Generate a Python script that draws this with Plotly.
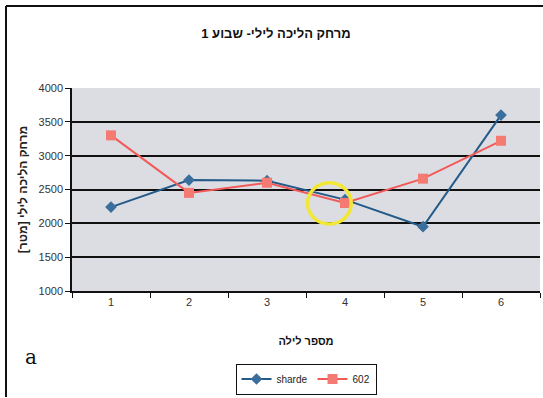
import plotly.graph_objects as go

# Nightly walking distance, week 1
nights = ["1", "2", "3", "4", "5", "6"]
sharde = [2240, 2640, 2630, 2350, 1950, 3600]
s602 = [3300, 2450, 2600, 2300, 2660, 3220]
y_ticks = [1000, 1500, 2000, 2500, 3000, 3500, 4000]

W, H = 543, 398
L, R, T, B = 72, 3, 88, 107
pw, ph = W - L - R, H - T - B

def px_x(p):
    return (p - L) / pw

def px_y(p):
    return (H - B - p) / ph

narrow = "Liberation Sans Narrow, Arial Narrow, Liberation Sans, sans-serif"

fig = go.Figure()
fig.add_trace(go.Scatter(
    x=nights, y=sharde, name="sharde", mode="lines+markers",
    line=dict(color="#245a88", width=2),
    marker=dict(symbol="diamond", size=9, color="#3a6e9c"),
))
fig.add_trace(go.Scatter(
    x=nights, y=s602, name="602", mode="lines+markers",
    line=dict(color="#f25a5a", width=2),
    marker=dict(symbol="square", size=10, color="#f47a72"),
))

# yellow highlight ring around night 4
fig.add_shape(type="circle", xref="x", yref="y",
              x0=2.52, x1=3.08, y0=1990, y1=2600,
              line=dict(color="#f2e833", width=3.5))

# outer frame
fig.add_shape(type="line", xref="paper", yref="paper",
              x0=px_x(6), x1=px_x(6), y0=px_y(6), y1=px_y(397),
              line=dict(color="#111", width=2))
fig.add_shape(type="line", xref="paper", yref="paper",
              x0=px_x(6), x1=px_x(W + 5), y0=px_y(6), y1=px_y(6),
              line=dict(color="#111", width=2))

fig.add_annotation(text="a", xref="paper", yref="paper",
                   x=px_x(31), y=px_y(357), xanchor="center", yanchor="middle",
                   showarrow=False,
                   font=dict(family="DejaVu Serif, Liberation Serif, serif", size=20, color="#111"))

fig.update_layout(
    width=W, height=H,
    margin=dict(l=L, r=R, t=T, b=B),
    paper_bgcolor="white",
    plot_bgcolor="#dcdde3",
    title=dict(text="<b>מרחק הליכה לילי- שבוע 1</b>", xref="container",
               x=276 / W, xanchor="center",
               y=1 - 33 / H, yanchor="middle",
               font=dict(family="Liberation Sans, Arial, sans-serif", size=13, color="#111")),
    xaxis=dict(
        type="category", tickson="boundaries", ticks="outside", ticklen=5,
        tickcolor="#111", showline=True, linecolor="#111", linewidth=1.5,
        showgrid=False, range=[-0.5, 5.5],
        tickfont=dict(family=narrow, size=11, color="#333"),
        title=dict(text="<b>מספר לילה</b>", standoff=30,
                   font=dict(family="Liberation Sans, Arial, sans-serif", size=11, color="#111")),
    ),
    yaxis=dict(
        range=[1000, 4000], tickvals=y_ticks, ticks="outside", ticklen=5,
        tickcolor="#111", showline=True, linecolor="#111", linewidth=1.5,
        showgrid=True, gridcolor="#111", gridwidth=2,
        tickfont=dict(family=narrow, size=11, color="#333"),
        title=dict(text="<b>מרחק הליכה לילי [מטר]</b>", standoff=8,
                   font=dict(family=narrow, size=12, color="#222")),
    ),
    legend=dict(orientation="h", x=px_x(306), xanchor="center",
                y=px_y(379), yanchor="middle",
                bordercolor="#111", borderwidth=1, bgcolor="white",
                font=dict(family=narrow, size=10, color="#222"),
                itemwidth=30, tracegroupgap=0),
    showlegend=True,
)

fig.write_html("out.html")
